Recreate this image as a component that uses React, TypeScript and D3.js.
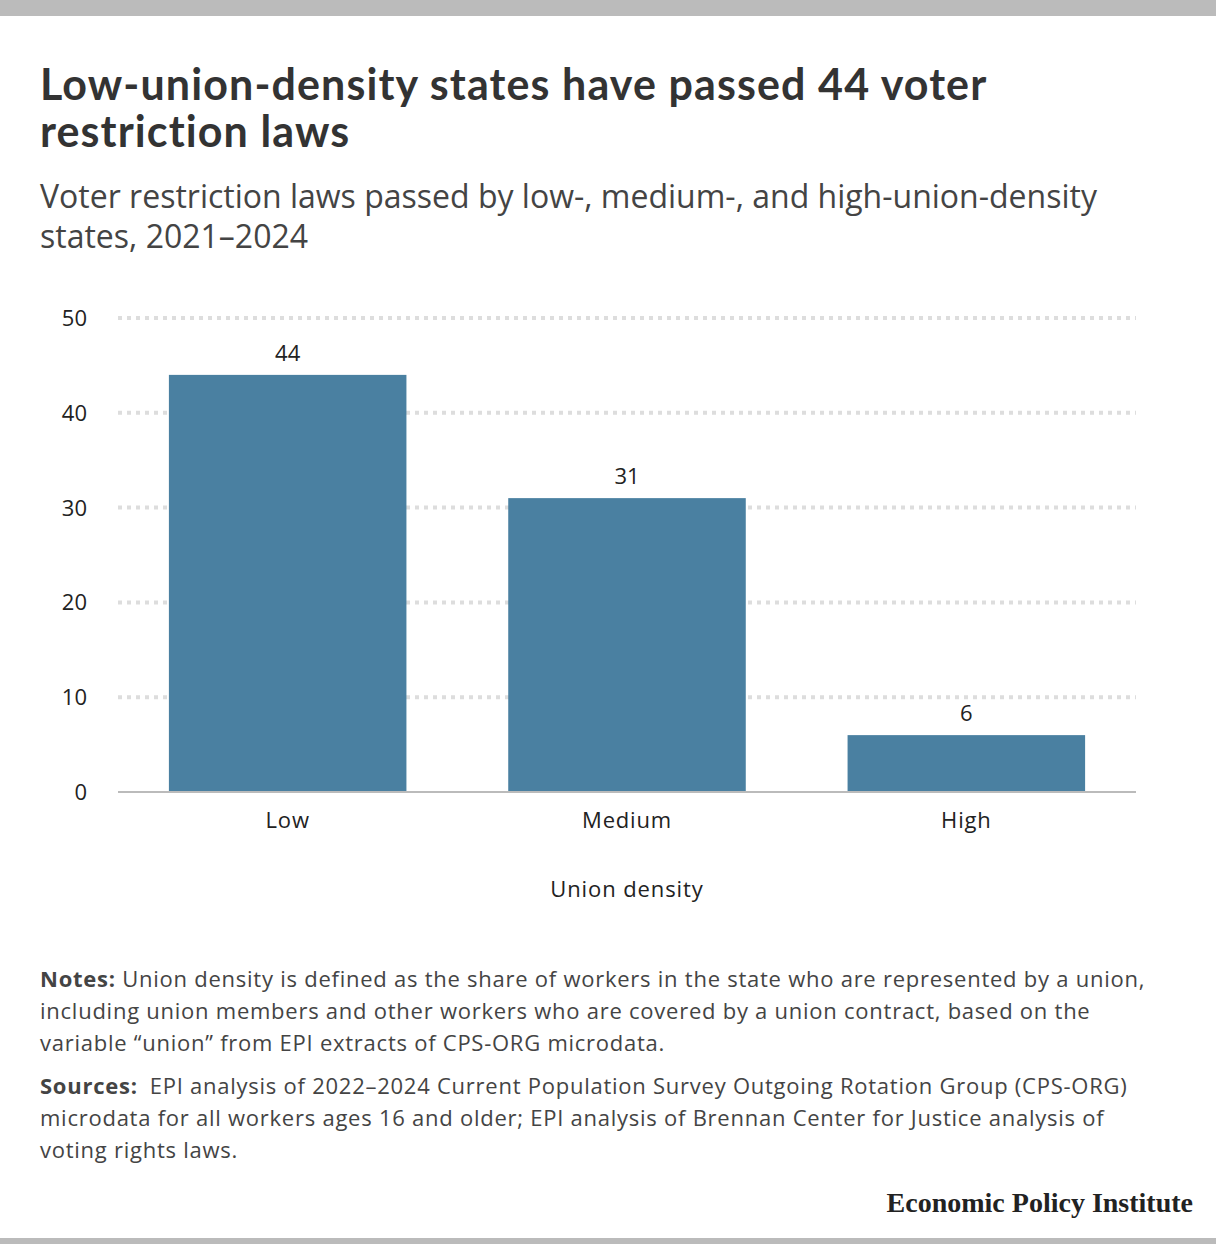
import * as React from 'react'
import * as d3 from 'd3'

const categories = ['Low', 'Medium', 'High']
const values = [44, 31, 6]
const yTicks = [0, 10, 20, 30, 40, 50]

const titleLines = ['Low-union-density states have passed 44 voter', 'restriction laws']
const subtitleLines = ['Voter restriction laws passed by low-, medium-, and high-union-density', 'states, 2021\u20132024']
const notesLines = [
    'Union density is defined as the share of workers in the state who are represented by a union,',
    'including union members and other workers who are covered by a union contract, based on the',
    'variable \u201cunion\u201d from EPI extracts of CPS-ORG microdata.',
]
const sourcesLines = [
    'EPI analysis of 2022\u20132024 Current Population Survey Outgoing Rotation Group (CPS-ORG)',
    'microdata for all workers ages 16 and older; EPI analysis of Brennan Center for Justice analysis of',
    'voting rights laws.',
]

const W = 1216
const H = 1244
const font = '"Open Sans", Lato, sans-serif'
const titleFont = 'Lato, "Open Sans", sans-serif'

export default function App() {
    const ref = React.useRef<SVGSVGElement | null>(null)

    React.useEffect(() => {
        document.body.style.margin = '0'
        if (!ref.current) return
        const svg = d3.select(ref.current)
        svg.selectAll('*').remove()

        svg.append('rect').attr('width', W).attr('height', H).attr('fill', '#fff')
        svg.append('rect').attr('width', W).attr('height', 16).attr('fill', '#bbb')
        svg.append('rect').attr('y', 1238).attr('width', W).attr('height', 6).attr('fill', '#bbb')

        // title
        svg.append('g').selectAll('text').data(titleLines).enter().append('text')
            .attr('x', 40).attr('y', (d, i) => 100 + i * 47)
            .attr('font-family', titleFont).attr('font-weight', 700).attr('font-size', 43)
            .attr('letter-spacing', 1.1)
            .attr('fill', '#333').text(d => d)

        svg.append('g').selectAll('text').data(subtitleLines).enter().append('text')
            .attr('x', 40).attr('y', (d, i) => 208 + i * 40)
            .attr('font-family', font).attr('font-size', 32)
            .attr('fill', '#444').text(d => d)

        const x = d3.scaleBand<string>().domain(categories).range([118, 1136])
            .paddingInner(0.3).paddingOuter(0.15)
        const y = d3.scaleLinear().domain([0, 50]).range([792, 318])

        // grid
        svg.append('g').selectAll('line').data(yTicks.filter(t => t > 0)).enter().append('line')
            .attr('x1', 118).attr('x2', 1136)
            .attr('y1', d => y(d)).attr('y2', d => y(d))
            .attr('stroke', '#ddd').attr('stroke-width', 4).attr('stroke-dasharray', '4,5')

        svg.append('g').selectAll('text').data(yTicks).enter().append('text')
            .attr('x', 87).attr('y', d => y(d) + 8)
            .attr('text-anchor', 'end')
            .attr('font-family', font).attr('font-size', 22).attr('fill', '#222')
            .text(d => d)

        // bars
        svg.append('g').selectAll('rect').data(values).enter().append('rect')
            .attr('x', (d, i) => x(categories[i]) as number)
            .attr('width', x.bandwidth())
            .attr('y', d => y(d))
            .attr('height', d => y(0) - y(d))
            .attr('fill', '#4a80a1')

        svg.append('g').selectAll('text').data(values).enter().append('text')
            .attr('x', (d, i) => (x(categories[i]) as number) + x.bandwidth() / 2)
            .attr('y', d => y(d) - 14)
            .attr('text-anchor', 'middle')
            .attr('font-family', font).attr('font-size', 22).attr('fill', '#222')
            .text(d => d)

        // baseline
        svg.append('line').attr('x1', 118).attr('x2', 1136).attr('y1', y(0)).attr('y2', y(0))
            .attr('stroke', '#bbb').attr('stroke-width', 2)

        svg.append('g').selectAll('text').data(categories).enter().append('text')
            .attr('x', d => (x(d) as number) + x.bandwidth() / 2)
            .attr('y', 828)
            .attr('text-anchor', 'middle')
            .attr('font-family', font).attr('font-size', 22).attr('letter-spacing', 0.8).attr('fill', '#222')
            .text(d => d)

        svg.append('text').attr('x', 627).attr('y', 897).attr('text-anchor', 'middle')
            .attr('font-family', font).attr('font-size', 22).attr('letter-spacing', 0.9).attr('fill', '#222')
            .text('Union density')

        // notes
        const notes = svg.append('g').attr('font-family', font).attr('font-size', 22)
            .attr('letter-spacing', 0.75).attr('fill', '#444')
        notesLines.forEach((line, i) => {
            const t = notes.append('text').attr('x', 40).attr('y', 987 + i * 32)
            if (i === 0) t.append('tspan').attr('font-weight', 700).text('Notes: ')
            t.append('tspan').text(line)
        })
        sourcesLines.forEach((line, i) => {
            const t = notes.append('text').attr('x', 40).attr('y', 1094 + i * 32)
            if (i === 0) {
                t.append('tspan').attr('font-weight', 700).text('Sources:')
                t.append('tspan').attr('dx', 12).text(line)
            } else {
                t.append('tspan').text(line)
            }
        })

        svg.append('text').attr('x', 1193).attr('y', 1212).attr('text-anchor', 'end')
            .attr('font-family', '"Liberation Serif", "DejaVu Serif", serif')
            .attr('font-weight', 700).attr('font-size', 28).attr('fill', '#222')
            .text('Economic Policy Institute')
    }, [])

    return <svg ref={ref} width={W} height={H} style={{ display: 'block' }} />
}
